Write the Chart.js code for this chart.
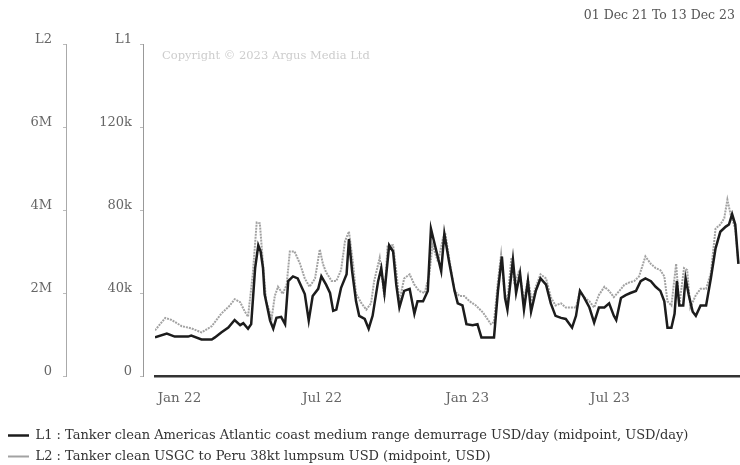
<!DOCTYPE html>
<html>
<head>
<meta charset="utf-8">
<title>Tanker clean Americas demurrage vs USGC to Peru lumpsum</title>
<script src="https://cdn.jsdelivr.net/npm/chart.js@4.4.1/dist/chart.umd.min.js"></script>
<style>
	html, body { margin: 0; padding: 0; background: #fff; overflow: hidden; }
	#chart-wrap { width: 740px; height: 473px; }
</style>
</head>
<body>
<div id="chart-wrap"><canvas id="freight-chart" width="740" height="473"></canvas></div>
<script>
// x values are days counted from 01 Dec 21
const l1Days = [
	0, 15, 25, 42, 46, 59, 72, 76, 84, 93,
	101, 108, 112, 118, 122, 127, 131, 134, 137, 139,
	146, 150, 154, 160, 165, 169, 175, 181, 190, 195,
	200, 207, 211, 217, 222, 226, 230, 236, 243, 246,
	250, 255, 259, 266, 271, 276, 283, 287, 291, 297,
	302, 306, 310, 316, 323, 329, 333, 340, 346, 350,
	357, 363, 367, 373, 380, 384, 390, 395, 403, 409,
	414, 430, 435, 440, 444, 447, 454, 458, 463, 468,
	473, 477, 483, 489, 496, 502, 508, 515, 521, 529,
	534, 539, 544, 551, 557, 563, 570, 576, 582, 585,
	591, 597, 603, 610, 616, 622, 629, 635, 641, 646,
	650, 655, 659, 662, 665, 670, 673, 677, 682, 686,
	692, 699, 705, 711, 717, 724, 728, 732, 736, 740
];
const l1UsdPerDay = [
	18600, 20500, 19000, 19000, 19500, 17600, 17600, 18600, 21000, 23300,
	27000, 24500, 25500, 22800, 25000, 52000, 63000, 60000, 52000, 39500,
	26700, 22800, 28000, 28500, 25000, 45700, 48000, 47000, 39500, 26700,
	38500, 42000, 48000, 44000, 40000, 31400, 32000, 42500, 49000, 66000,
	50500, 36000, 29000, 27500, 22800, 29000, 45700, 52000, 40000, 63000,
	60000, 44000, 33000, 41000, 42000, 30000, 36000, 36000, 41000, 71000,
	60000, 50500, 68600, 55000, 41000, 35000, 34000, 25000, 24500, 25000,
	18600, 18600, 41000, 57600, 37600, 32000, 56000, 40000, 49500, 32000,
	45700, 31000, 41000, 47000, 44000, 35000, 29000, 28000, 27500, 23300,
	29000, 41000, 38000, 33000, 25700, 33000, 33000, 35000, 29000, 27000,
	37600, 39000, 40000, 41000, 45700, 47000, 45700, 43000, 41000, 36000,
	23300, 23300, 30000, 45700, 34000, 34000, 47000, 39000, 31000, 29000,
	34000, 34000, 47000, 61500, 69500, 72000, 73000, 78000, 73000, 54000
];
const l2Days = [
	0, 13, 21, 34, 46, 59, 72, 84, 95, 101,
	108, 114, 118, 124, 129, 133, 137, 141, 148, 152,
	156, 162, 167, 171, 177, 184, 190, 196, 203, 209,
	213, 217, 224, 230, 236, 241, 246, 251, 255, 262,
	268, 274, 278, 285, 291, 295, 302, 306, 310, 316,
	323, 329, 335, 342, 348, 352, 359, 365, 368, 373,
	380, 386, 392, 399, 407, 416, 426, 430, 435, 439,
	443, 447, 452, 456, 462, 468, 473, 478, 483, 489,
	496, 502, 508, 515, 521, 529, 534, 539, 544, 551,
	557, 563, 570, 576, 582, 589, 595, 601, 608, 614,
	622, 629, 635, 641, 646, 650, 655, 661, 665, 671,
	675, 679, 686, 692, 699, 705, 711, 717, 722, 726,
	730, 736, 740
];
const l2UsdMillions = [
	1.10, 1.40, 1.35, 1.20, 1.15, 1.05, 1.20, 1.50, 1.70, 1.85,
	1.78, 1.55, 1.43, 2.45, 3.70, 3.68, 2.70, 1.80, 1.40, 1.93,
	2.15, 1.98, 2.20, 3.00, 3.00, 2.70, 2.35, 2.15, 2.35, 3.05,
	2.70, 2.50, 2.29, 2.29, 2.55, 3.25, 3.48, 2.75, 1.98, 1.75,
	1.60, 1.75, 2.29, 2.85, 1.90, 3.15, 3.15, 2.53, 1.80, 2.35,
	2.45, 2.20, 2.05, 2.00, 2.45, 3.15, 2.75, 3.30, 3.45, 2.85,
	2.05, 1.93, 1.93, 1.80, 1.70, 1.53, 1.25, 1.30, 2.29, 2.93,
	2.05, 1.80, 2.85, 2.20, 2.55, 1.80, 2.35, 1.80, 2.15, 2.45,
	2.35, 1.90, 1.70, 1.75, 1.65, 1.65, 1.65, 2.05, 1.90, 1.80,
	1.65, 1.95, 2.15, 2.05, 1.90, 2.05, 2.19, 2.25, 2.29, 2.40,
	2.88, 2.70, 2.60, 2.55, 2.40, 1.80, 1.70, 2.70, 1.70, 2.60,
	2.55, 1.65, 1.95, 2.10, 2.10, 2.48, 3.55, 3.65, 3.80, 4.25,
	3.90, 3.55, 2.70
];
const tickDays = [31, 212, 396, 577];
const tickLabels = ["Jan 22", "Jul 22", "Jan 23", "Jul 23"];
const lastDay = 742;

const dateRange = "01 Dec 21 To 13 Dec 23";
const copyright = "Copyright © 2023 Argus Media Ltd";
const l1Label = "L1 : Tanker clean Americas Atlantic coast medium range demurrage USD/day (midpoint, USD/day)";
const l2Label = "L2 : Tanker clean USGC to Peru 38kt lumpsum USD (midpoint, USD)";

const serif = "'DejaVu Serif', 'Liberation Serif', serif";
Chart.defaults.font.family = serif;
Chart.defaults.font.size = 13;
Chart.defaults.color = "#666";

const textPlugin = {
	id: "chartTexts",
	beforeDatasetsDraw(chart) {
		const { ctx, chartArea } = chart;
		ctx.save();
		ctx.font = "11.5px " + serif;
		ctx.fillStyle = "#cdcdcd";
		ctx.textBaseline = "middle";
		ctx.fillText(copyright, chartArea.left + 7, chartArea.top + 12);
		ctx.restore();
	},
	afterDraw(chart) {
		const { ctx } = chart;
		ctx.save();
		ctx.font = "12.5px " + serif;
		ctx.fillStyle = "#555";
		ctx.textAlign = "right";
		ctx.textBaseline = "middle";
		ctx.fillText(dateRange, chart.width - 5, 16);
		ctx.restore();
	}
};

const data = {
	datasets: [
		{
			label: l1Label,
			data: l1Days.map((d, i) => ({ x: d, y: l1UsdPerDay[i] })),
			yAxisID: "yL1",
			borderColor: "#1c1c1c",
			backgroundColor: "#1c1c1c",
			borderWidth: 2.5,
			pointRadius: 0,
			tension: 0,
		},
		{
			label: l2Label,
			data: l2Days.map((d, i) => ({ x: d, y: l2UsdMillions[i] })),
			yAxisID: "yL2",
			borderColor: "#a2a2a2",
			backgroundColor: "#a2a2a2",
			borderWidth: 2,
			borderDash: [2, 1],
			pointRadius: 0,
			tension: 0,
		},
	],
};

const config = {
	type: "line",
	data: data,
	plugins: [textPlugin],
	options: {
		responsive: false,
		animation: false,
		layout: { padding: { top: 44, right: 0, left: 0, bottom: 0 } },
		plugins: {
			tooltip: { enabled: false },
			legend: {
				position: "bottom",
				align: "start",
				labels: {
					usePointStyle: true,
					pointStyle: "line",
					pointStyleWidth: 21,
					padding: 8,
					color: "#333",
					font: { size: 13 },
				},
			},
		},
		scales: {
			x: {
				type: "linear",
				min: 0,
				max: lastDay,
				grid: { display: false, drawTicks: false },
				border: { display: true, color: "#333", width: 2.5 },
				afterBuildTicks: (scale) => {
					scale.ticks = tickDays.map((v) => ({ value: v }));
				},
				afterFit: (scale) => {
					scale.height = 45;
				},
				ticks: {
					autoSkip: false,
					maxRotation: 0,
					padding: 14,
					font: { size: 13.5 },
					callback: (value, index) => tickLabels[index],
				},
			},
			gap: {
				type: "linear",
				position: "left",
				weight: 0,
				grid: { display: false },
				border: { display: false },
				ticks: { display: false },
				afterFit: (scale) => {
					scale.width = 12;
				},
			},
			yL1: {
				type: "linear",
				position: "left",
				weight: 1,
				min: 0,
				max: 160000,
				grid: { drawOnChartArea: false, drawTicks: true, tickLength: 3, color: "#bbb" },
				border: { display: true, color: "#999", width: 1, dash: [1, 2] },
				afterFit: (scale) => {
					scale.width = 77;
				},
				ticks: {
					stepSize: 40000,
					padding: 8,
					labelOffset: -4,
					callback: (v) => (v === 160000 ? "L1" : v === 0 ? "0" : v / 1000 + "k"),
				},
			},
			yL2: {
				type: "linear",
				position: "left",
				weight: 2,
				min: 0,
				max: 8,
				grid: { drawOnChartArea: false, drawTicks: true, tickLength: 3, color: "#bbb" },
				border: { display: true, color: "#aaa", width: 1 },
				afterFit: (scale) => {
					scale.width = 66;
				},
				ticks: {
					stepSize: 2,
					padding: 11,
					labelOffset: -4,
					callback: (v) => (v === 8 ? "L2" : v === 0 ? "0" : v + "M"),
				},
			},
		},
	},
};

new Chart(document.getElementById("freight-chart"), config);
</script>
</body>
</html>
